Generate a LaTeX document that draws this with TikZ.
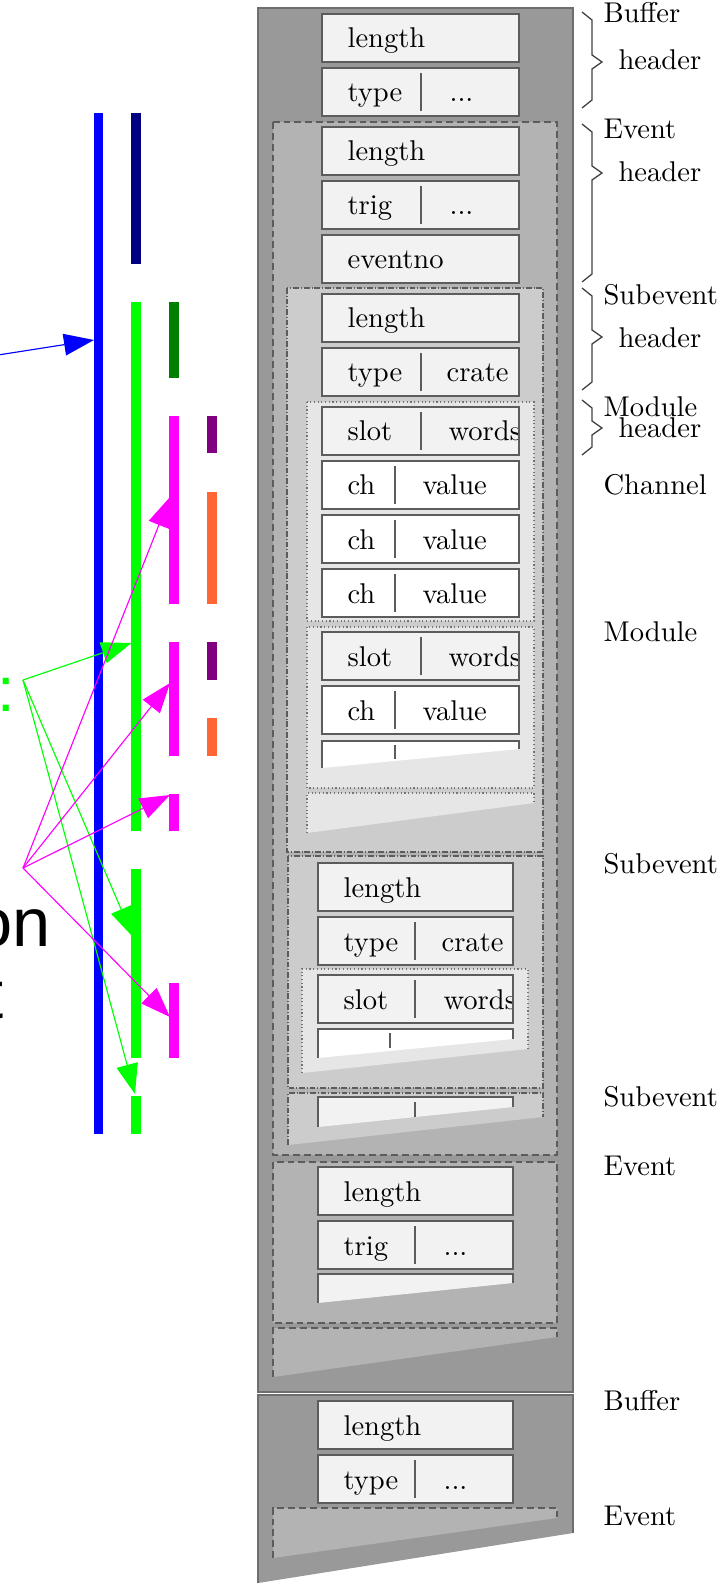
\documentclass[tikz,border=0pt]{standalone}
\usepackage{fontspec}
\newfontfamily\slidefont{Liberation Sans}
\usetikzlibrary{arrows.meta}
\definecolor{bufc}{HTML}{999999}
\definecolor{evc}{HTML}{B3B3B3}
\definecolor{subc}{HTML}{CCCCCC}
\definecolor{modc}{HTML}{E6E6E6}
\definecolor{fldc}{HTML}{F2F2F2}
\definecolor{edgec}{HTML}{5C5C5C}
\definecolor{bufedge}{HTML}{6E6E6E}
\definecolor{myblue}{HTML}{0000FF}
\definecolor{mynavy}{HTML}{000080}
\definecolor{mygreen}{HTML}{00FF00}
\definecolor{mydkgreen}{HTML}{008000}
\definecolor{mymag}{HTML}{FF00FF}
\definecolor{mypurple}{HTML}{800080}
\definecolor{myorange}{HTML}{FF6633}
% one-field box: name, x1, x2, ytop, fill, text
\newcommand\fldA[6]{%
  \fill[#5] (#2,#4) rectangle (#3,{#4+48});
  \node[lbl] (#1) at ({#2+25},{#4+34}) {#6};
  \draw[fld] (#2,#4) rectangle (#3,{#4+48});}
% two-field box: name, x1, x2, ytop, fill, text1, sepx, text2, text2x
\newcommand\fldB[9]{%
  \fill[#5] (#2,#4) rectangle (#3,{#4+48});
  \draw[sepl] (#7,{#4+5}) -- (#7,{#4+43});
  \node[lbl] (#1a) at ({#2+25},{#4+34}) {#6};
  \begin{scope}
    \clip (#2,#4) rectangle (#3,{#4+48});
    \node[lbl] (#1b) at (#9,{#4+34}) {#8};
  \end{scope}
  \draw[fld] (#2,#4) rectangle (#3,{#4+48});}
% torn box: x1, x2, ytop, yleft, yright, fill, style
\newcommand\fldT[7]{%
  \fill[#6] (#1,#3) -- (#2,#3) -- (#2,#5) -- (#1,#4) -- cycle;
  \draw[#7] (#1,#4) -- (#1,#3) -- (#2,#3) -- (#2,#5);}
% brace: top, tip, bottom
\newcommand\hbrace[3]{%
  \draw[brc] (582,#1) -- (592,{#1+8}) -- (592,{#2-7}) -- (602,#2) -- (592,{#2+7}) -- (592,{#3-8}) -- (582,#3);}
\begin{document}
\begin{tikzpicture}[x=0.35pt,y=-0.35pt,
  fld/.style={draw=edgec,line width=0.6pt},
  sepl/.style={draw=edgec,line width=0.6pt},
  lbl/.style={anchor=base west,inner sep=0pt},
  evbox/.style={draw=edgec,line width=0.45pt,dash pattern=on 2.4pt off 1.4pt},
  subbox/.style={draw=edgec,line width=0.4pt,dash pattern=on 2pt off 0.7pt on 0.3pt off 0.7pt},
  modbox/.style={draw=edgec!85,line width=0.4pt,dash pattern=on 0.4pt off 0.9pt},
  bar/.style={line width=3.2pt},
  arr/.style={line width=0.4pt,-{Triangle[length=10.5pt,width=7.6pt]}},
  brc/.style={draw=black!75,line width=0.45pt},
  side/.style={anchor=base west,inner sep=0pt},
]
\useasboundingbox (0,0) rectangle (725,1587);
\clip (0,0) rectangle (725,1587);

% ================= right: buffer structure =================
% Buffer 1
\draw[draw=bufedge,line width=0.5pt,fill=bufc] (258,8) rectangle (573,1392);
\fldA{b1len}{322}{519}{14}{fldc}{length}
\fldB{b1typ}{322}{519}{68}{fldc}{type}{421}{...}{449}
% Event 1
\draw[evbox,fill=evc] (273,122) rectangle (557,1155);
\fldA{e1len}{322}{519}{127}{fldc}{length}
\fldB{e1trg}{322}{519}{181}{fldc}{trig}{421}{...}{449}
\fldA{e1evn}{322}{519}{235}{fldc}{eventno}
% Subevent 1
\draw[subbox,fill=subc] (287,288) rectangle (543,852);
\fldA{s1len}{322}{519}{294}{fldc}{length}
\fldB{s1typ}{322}{519}{348}{fldc}{type}{421}{crate}{446}
% Module 1
\draw[modbox,fill=modc] (307,402) rectangle (534,621);
\fldB{m1slt}{322}{519}{407}{fldc}{slot}{421}{words}{448}
\fldB{m1ca}{322}{519}{461}{white}{ch}{395}{value}{422}
\fldB{m1cb}{322}{519}{515}{white}{ch}{395}{value}{422}
\fldB{m1cc}{322}{519}{569}{white}{ch}{395}{value}{422}
% Module 2
\draw[modbox,fill=modc] (307,627) rectangle (534,788);
\fldB{m2slt}{322}{519}{632}{fldc}{slot}{421}{words}{448}
\fldB{m2ca}{322}{519}{686}{white}{ch}{395}{value}{422}
\fldT{322}{519}{741}{768}{749}{white}{fld}
\draw[sepl] (395,745) -- (395,759);
% rest of subevent 1 (torn)
\fldT{307}{534}{793}{833}{803}{modc}{modbox}
% Subevent 2
\draw[subbox,fill=subc] (288,856) rectangle (543,1088);
\fldA{s2len}{318}{513}{863}{fldc}{length}
\fldB{s2typ}{318}{513}{917}{fldc}{type}{415}{crate}{441}
\fldT{302}{528}{969}{1073}{1049}{modc}{modbox}
\fldB{m3slt}{318}{513}{975}{fldc}{slot}{415}{words}{443}
\fldT{318}{513}{1029}{1058}{1039}{white}{fld}
\draw[sepl] (390,1033) -- (390,1048);
% Subevent 3 (torn)
\fldT{288}{543}{1093}{1145}{1117}{subc}{subbox}
\fldT{318}{513}{1097}{1127}{1107}{fldc}{fld}
\draw[sepl] (415,1102) -- (415,1117);
% Event 2
\draw[evbox,fill=evc] (273,1162) rectangle (557,1323);
\fldA{e2len}{318}{513}{1167}{fldc}{length}
\fldB{e2trg}{318}{513}{1221}{fldc}{trig}{415}{...}{443}
\fldT{318}{513}{1274}{1303}{1283}{fldc}{fld}
% Event 3 (torn)
\fldT{273}{557}{1328}{1377}{1337}{evc}{evbox}
% Buffer 2 (torn)
\fill[bufc] (258,1395) -- (573,1395) -- (573,1533) -- (258,1583) -- cycle;
\draw[draw=bufedge,line width=0.5pt] (258,1583) -- (258,1395) -- (573,1395) -- (573,1533);
\fldA{b2len}{318}{513}{1401}{fldc}{length}
\fldB{b2typ}{318}{513}{1455}{fldc}{type}{415}{...}{443}
\fldT{273}{557}{1508}{1558}{1518}{evc}{evbox}

% ================= braces and side labels =================
\hbrace{12}{62}{108}
\hbrace{124}{173}{282}
\hbrace{288}{337}{390}
\hbrace{400}{428}{455}
\node[side] (lBufA) at (603,23) {Buffer};
\node[side] (lHdA) at (618,70) {header};
\node[side] (lEvA) at (603,139) {Event};
\node[side] (lHdB) at (618,182) {header};
\node[side] (lSubA) at (603,305) {Subevent};
\node[side] (lHdC) at (618,348) {header};
\node[side] (lModA) at (603,417) {Module};
\node[side] (lHdD) at (618,438) {header};
\node[side] (lCh) at (603,495) {Channel};
\node[side] (lModB) at (603,641) {Module};
\node[side] (lSubB) at (603,873) {Subevent};
\node[side] (lSubC) at (603,1106) {Subevent};
\node[side] (lEvB) at (603,1175) {Event};
\node[side] (lBufB) at (603,1410) {Buffer};
\node[side] (lEvC) at (603,1525) {Event};

% ================= left: timelines =================
\draw[bar,myblue] (98.5,113) -- (98.5,1134);
\draw[bar,mynavy] (136,113) -- (136,264);
\draw[bar,mygreen] (136,302) -- (136,831);
\draw[bar,mygreen] (136,869) -- (136,1058);
\draw[bar,mygreen] (136,1096) -- (136,1134);
\draw[bar,mydkgreen] (174,302) -- (174,378);
\draw[bar,mymag] (174,416) -- (174,604);
\draw[bar,mymag] (174,642) -- (174,756);
\draw[bar,mymag] (174,794) -- (174,831);
\draw[bar,mymag] (174,983) -- (174,1058);
\draw[bar,mypurple] (212,416) -- (212,453);
\draw[bar,mypurple] (212,642) -- (212,680);
\draw[bar,myorange] (212,492) -- (212,604);
\draw[bar,myorange] (212,718) -- (212,756);

\coordinate (bsrc) at (-200,386);
\coordinate (btip) at (94,340);
\coordinate (gh) at (23,680);
\coordinate (g1) at (131.5,643);
\coordinate (g2) at (133,937);
\coordinate (g3) at (135,1094);
\coordinate (mh) at (23,868);
\coordinate (p1) at (170,497);
\coordinate (p2) at (170,683);
\coordinate (p3) at (170,795);
\coordinate (p4) at (170,1017);

\draw[arr,myblue] (bsrc) -- (btip);
\draw[arr,mygreen] (gh) -- (g1);
\draw[arr,mygreen] (gh) -- (g2);
\draw[arr,mygreen] (gh) -- (g3);
\draw[arr,mymag] (mh) -- (p1);
\draw[arr,mymag] (mh) -- (p2);
\draw[arr,mymag] (mh) -- (p3);
\draw[arr,mymag] (mh) -- (p4);

% clipped slide text at the left edge
\node[anchor=base east,inner sep=0pt,text=mygreen,font=\slidefont\fontsize{22pt}{22pt}\selectfont] (colon) at (16,711) {:};
\node[anchor=base east,inner sep=0pt,font=\slidefont\fontsize{24pt}{24pt}\selectfont] (on) at (51,946) {on};
\node[anchor=base east,inner sep=0pt,font=\slidefont\fontsize{24pt}{24pt}\selectfont] (tt) at (4,1018) {t};
\end{tikzpicture}
\end{document}
